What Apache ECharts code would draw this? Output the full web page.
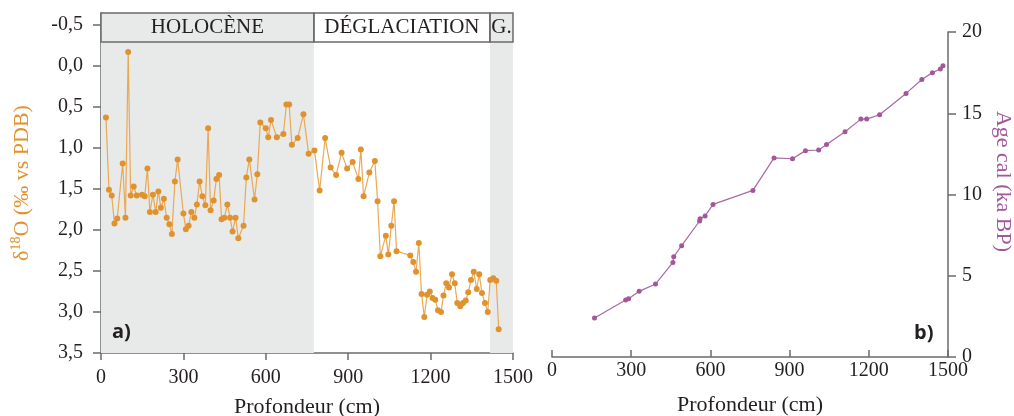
<!DOCTYPE html>
<html>
<head>
<meta charset="utf-8">
<script src="https://cdn.jsdelivr.net/npm/echarts@6/dist/echarts.min.js"></script>
<style>
  html, body { margin: 0; padding: 0; background: #fff; }
  #chart { width: 1014px; height: 416px; }
</style>
</head>
<body>
<div id="chart"></div>
<script>
// panneau a) : delta 18O en fonction de la profondeur
const depthA = [18,29,39,49,59,79,89,99,108,119,130,149,159,169,178,189,199,209,218,229,
  239,249,258,269,279,300,309,319,329,340,349,359,369,380,390,399,410,420,430,439,
  449,460,470,479,490,500,519,529,540,559,569,580,600,609,619,640,664,675,685,695,
  716,737,756,777,796,816,836,856,876,896,916,937,946,956,977,997,1007,1017,1037,1046,
  1057,1067,1076,1126,1137,1147,1157,1167,1177,1187,1197,1207,1217,1227,1238,1247,1257,1267,1278,1288,
  1297,1308,1318,1328,1337,1347,1357,1368,1377,1387,1398,1408,1417,1428,1439,1448]
const d18O = [0.63,1.51,1.58,1.92,1.86,1.19,1.85,-0.17,1.58,1.47,1.58,1.57,1.59,1.25,1.78,1.57,1.78,1.53,1.73,1.62,
  1.85,1.93,2.05,1.41,1.14,1.80,1.99,1.95,1.78,1.85,1.69,1.41,1.59,1.70,0.76,1.76,1.64,1.38,1.33,1.87,
  1.85,1.69,1.85,2.02,1.85,2.10,1.95,1.36,1.14,1.63,1.32,0.69,0.76,0.87,0.66,0.87,0.83,0.47,0.47,0.96,
  0.88,0.59,1.07,1.03,1.52,0.88,1.24,1.33,1.06,1.25,1.17,1.38,1.02,1.59,1.30,1.16,1.65,2.32,2.07,2.30,
  1.95,1.65,2.26,2.31,2.39,2.51,2.16,2.78,3.06,2.79,2.75,2.83,2.85,2.98,3.00,2.80,2.65,2.70,2.54,2.65,
  2.89,2.93,2.89,2.86,2.76,2.61,2.51,2.72,2.54,2.77,2.89,3.00,2.61,2.59,2.62,3.21]
const yTicksA = [-0.5, 0, 0.5, 1, 1.5, 2, 2.5, 3, 3.5]

// périodes (bandeau du haut)
const periodNames = ['HOLOCÈNE', 'DÉGLACIATION', 'G.']
const periodStart = [0, 775, 1416]
const periodEnd = [775, 1416, 1500]
const periodShaded = [true, false, true]

// panneau b) : modèle d'âge
const depthB = [161,279,290,330,392,458,461,491,559,561,580,610,761,841,911,960,1010,1040,1110,1170,1192,1241,1341,1401,1441,1471,1481]
const ageB = [2.40,3.51,3.59,4.04,4.49,5.82,6.17,6.85,8.37,8.51,8.68,9.39,10.25,12.25,12.20,12.70,12.74,13.08,13.86,14.64,14.64,14.91,16.22,17.08,17.50,17.72,17.93]

const orange = '#E0922E'
const orangeLine = '#E9A955'
const purple = '#A2579B'
const purpleLine = '#AA68A4'
const grey = '#E8E9E9'
const ink = '#231F20'
const axisGrey = '#6b6b6b'
const serif = 'Liberation Serif'

const chart = echarts.init(document.getElementById('chart'))

const shadeAreas = []
const headerAreas = []
periodNames.forEach((name, i) => {
  if (periodShaded[i]) {
    shadeAreas.push([{ xAxis: periodStart[i] }, { xAxis: periodEnd[i] }])
  }
  headerAreas.push([
    { xAxis: periodStart[i], yAxis: -0.645, name: name },
    { xAxis: periodEnd[i], yAxis: -0.29 }
  ])
})

const plain = v => String(v)

const option = {
  backgroundColor: '#fff',
  animation: false,
  grid: [
    { left: 101, top: 13, width: 412, height: 340, outerBoundsMode: 'none' },
    { left: 552, top: 32, width: 396, height: 325, outerBoundsMode: 'none' }
  ],
  xAxis: [
    {
      gridIndex: 0, type: 'value', min: 0, max: 1500, interval: 300,
      name: 'Profondeur (cm)', nameLocation: 'middle', nameGap: 43,
      nameTextStyle: { fontFamily: serif, fontSize: 22, color: ink },
      axisLine: { onZero: false, lineStyle: { color: axisGrey, width: 1.5 } },
      axisTick: { length: 7, lineStyle: { color: axisGrey, width: 1.5 } },
      axisLabel: { fontFamily: serif, fontSize: 20, color: ink, margin: 15, formatter: plain },
      splitLine: { show: false }
    },
    {
      gridIndex: 1, type: 'value', min: 0, max: 1500, interval: 300,
      name: 'Profondeur (cm)', nameLocation: 'middle', nameGap: 37,
      nameTextStyle: { fontFamily: serif, fontSize: 22, color: ink },
      axisLine: { onZero: false, lineStyle: { color: axisGrey, width: 1.5 } },
      axisTick: { inside: true, length: 7, lineStyle: { color: axisGrey, width: 1.5 } },
      axisLabel: { fontFamily: serif, fontSize: 20, color: ink, margin: 4, formatter: plain },
      splitLine: { show: false }
    }
  ],
  yAxis: [
    {
      gridIndex: 0, type: 'value', inverse: true, min: -0.645, max: 3.5,
      name: '{d|δ}{s|18}{d|O (‰ vs PDB)}', nameLocation: 'middle', nameGap: 66, nameRotate: 90,
      nameTextStyle: {
        rich: {
          d: { fontFamily: serif, fontSize: 22, lineHeight: 26, color: orange },
          s: { fontFamily: serif, fontSize: 14, lineHeight: 14, verticalAlign: 'top', color: orange }
        }
      },
      axisLine: { onZero: false, lineStyle: { color: axisGrey, width: 1.5 } },
      axisTick: { length: 8, customValues: yTicksA, lineStyle: { color: axisGrey, width: 1.5 } },
      axisLabel: {
        fontFamily: serif, fontSize: 20, color: ink, margin: 18,
        customValues: yTicksA,
        formatter: v => v.toFixed(1).replace('.', ',')
      },
      splitLine: { show: false }
    },
    {
      gridIndex: 1, type: 'value', min: 0, max: 20, interval: 5, position: 'right',
      name: 'Age cal (ka BP)', nameLocation: 'middle', nameGap: 44, nameRotate: -90,
      nameTextStyle: { fontFamily: serif, fontSize: 22, color: purple, padding: [0, 26, 0, 0] },
      axisLine: { onZero: false, lineStyle: { color: axisGrey, width: 1.5 } },
      axisTick: { length: 8, lineStyle: { color: axisGrey, width: 1.5 } },
      axisLabel: { fontFamily: serif, fontSize: 20, color: ink, margin: 14 },
      splitLine: { show: false }
    }
  ],
  series: [
    {
      // fond grisé des périodes
      type: 'line', xAxisIndex: 0, yAxisIndex: 0, data: [], z: 0,
      markArea: {
        silent: true,
        itemStyle: { color: grey },
        data: shadeAreas
      }
    },
    {
      name: 'd18O', type: 'line', xAxisIndex: 0, yAxisIndex: 0,
      data: depthA.map((d, i) => [d, d18O[i]]),
      symbol: 'circle', symbolSize: 6,
      itemStyle: { color: orange },
      lineStyle: { color: orangeLine, width: 1.2 },
      z: 3
    },
    {
      // bandeau des périodes
      type: 'line', xAxisIndex: 0, yAxisIndex: 0, data: [], z: 4,
      markArea: {
        silent: true,
        itemStyle: { color: 'rgba(0,0,0,0)', borderColor: axisGrey, borderWidth: 1.5 },
        label: {
          show: true, position: 'inside',
          fontFamily: serif, fontSize: 21, color: ink
        },
        data: headerAreas
      }
    },
    {
      name: 'age', type: 'line', xAxisIndex: 1, yAxisIndex: 1,
      data: depthB.map((d, i) => [d, ageB[i]]),
      symbol: 'circle', symbolSize: 5,
      itemStyle: { color: purple },
      lineStyle: { color: purpleLine, width: 1.2 }
    }
  ],
  graphic: [
    {
      type: 'text', left: 112, top: 322, z: 100,
      style: { text: 'a)', font: 'bold 20px "Open Sans"', fill: ink }
    },
    {
      type: 'text', left: 914, top: 323, z: 100,
      style: { text: 'b)', font: 'bold 20px "Open Sans"', fill: ink }
    }
  ]
}

chart.setOption(option)
</script>
</body>
</html>
